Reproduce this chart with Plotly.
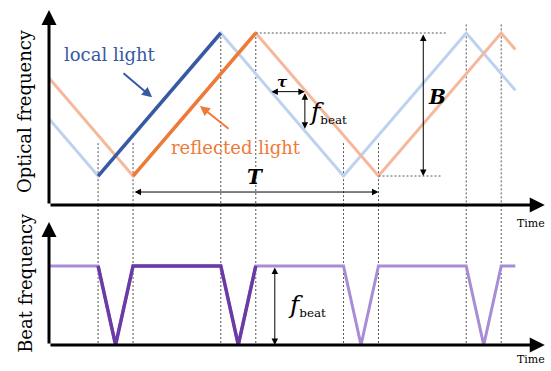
import plotly.graph_objects as go

# ---- data (normalized: half chirp period = 1, bandwidth B = 1) ----
local_t = [0, 0.4, 1.4, 2.4, 3.4, 3.8]
local_f = [0.4, 0, 1, 0, 1, 0.6]
reflected_t = [0, 0.685, 1.685, 2.685, 3.685, 3.8]
reflected_f = [0.685, 0, 1, 0, 1, 0.885]
beat_t = [0, 0.4, 0.5425, 0.685, 1.4, 1.5425, 1.685, 2.4, 2.5425, 2.685, 3.4, 3.5425, 3.685, 3.8]
beat_f = [1, 1, 0, 1, 1, 0, 1, 1, 0, 1, 1, 0, 1, 1]
turn_t = [0.4, 0.685, 1.4, 1.685, 2.4, 2.685, 3.4, 3.685]
turn_top = [0.23, 0.23, 1.0, 1.0, 0.23, 0.23, 1.06, 1.06]

DARK_BLUE = "#365aa3"
LIGHT_BLUE = "#bcd2ef"
DARK_OR = "#ee7a38"
LIGHT_OR = "#f5b89c"
DARK_PU = "#6b3aa6"
LIGHT_PU = "#a88dd6"
FONT = "DejaVu Serif"

fig = go.Figure()

def line(x, y, color, width, yaxis="y"):
    fig.add_trace(go.Scatter(x=x, y=y, mode="lines", yaxis=yaxis, xaxis="x",
                             line=dict(color=color, width=width),
                             hoverinfo="skip", showlegend=False, cliponaxis=False))

# light (full) traces
line(local_t, local_f, LIGHT_BLUE, 3)
line(reflected_t, reflected_f, LIGHT_OR, 3)
line(beat_t, beat_f, LIGHT_PU, 3, "y2")
# highlighted chirp
line(local_t[1:3], local_f[1:3], DARK_BLUE, 3.5)
line(reflected_t[1:3], reflected_f[1:3], DARK_OR, 3.5)
line(beat_t[1:7], beat_f[1:7], DARK_PU, 3.5, "y2")

Y1_BOT = -0.2028
Y2_TOP = 1.772
GUIDE = dict(color="#555", width=1, dash="2px,2px")
shapes = []
for t, top in zip(turn_t, turn_top):
    shapes.append(dict(type="line", xref="x", yref="y", x0=t, x1=t, y0=top, y1=Y1_BOT,
                       line=GUIDE, layer="below"))
    shapes.append(dict(type="line", xref="x", yref="y2", x0=t, x1=t, y0=Y2_TOP, y1=0,
                       line=GUIDE, layer="below"))
# horizontal guides for B
shapes.append(dict(type="line", xref="x", yref="y", x0=1.685, x1=3.24, y0=1, y1=1, line=GUIDE))
shapes.append(dict(type="line", xref="x", yref="y", x0=2.685, x1=3.2, y0=0, y1=0, line=GUIDE))

ann = []
def arrow(x0, y0, x1, y1, yref="y", width=1, both=False, size=1.3, color="black", head=2):
    d = dict(x=x1, y=y1, ax=x0, ay=y0, xref="x", yref=yref, axref="x", ayref=yref,
             text="", showarrow=True, arrowhead=head, arrowsize=size, arrowwidth=width,
             arrowcolor=color, standoff=0, startstandoff=0)
    if both:
        d.update(arrowside="end+start", startarrowhead=head, startarrowsize=size)
    ann.append(d)

def text(x, y, s, size, color="black", yref="y", xref="x", angle=0):
    ann.append(dict(x=x, y=y, xref=xref, yref=yref, text=s, showarrow=False, textangle=angle,
                    xanchor="center", yanchor="middle",
                    font=dict(family=FONT, size=size, color=color)))

# axes
arrow(0, Y1_BOT, 0, 1.161, width=3, size=1)
arrow(0, Y1_BOT, 4.04, Y1_BOT, width=3, size=1)
arrow(0, 0, 0, 1.557, yref="y2", width=3, size=1)
arrow(0, 0, 4.04, 0, yref="y2", width=3, size=1)

# dimension arrows
arrow(3.05, 1, 3.05, 0, both=True)              # B
arrow(0.685, -0.112, 2.685, -0.112, both=True)  # T
arrow(1.8, 0.59, 2.085, 0.59, both=True)        # tau
arrow(2.085, 0.59, 2.085, 0.33, both=True)      # f_beat top
arrow(1.84, 1, 1.84, 0, yref="y2", both=True)   # f_beat bottom

# label pointers
arrow(0.595, 0.727, 0.84, 0.55, width=2, color=DARK_BLUE, size=1)
arrow(1.475, 0.322, 1.23, 0.49, width=2, color=DARK_OR, size=1)

FB = "<span style='font-size:25px'><i>f</i></span><sub>beat</sub>"
text(0.5, 0.85, "local light", 18, DARK_BLUE)
text(1.52, 0.2, "reflected light", 18, DARK_OR)
text(3.16, 0.55, "<b><i>B</i></b>", 20)
text(1.68, -0.005, "<b><i>T</i></b>", 20)
text(1.9, 0.66, "<b><i>τ</i></b>", 15)
text(2.27, 0.45, FB, 17)
text(2.1, 0.5, FB, 17, yref="y2")
text(3.93, 0.398, "Time", 11, yref="paper")
text(3.93, 0.03, "Time", 11, yref="paper")
text(0.045, 0.70, "Optical frequency", 18, xref="paper", yref="paper", angle=-90)
text(0.045, 0.237, "Beat frequency", 18, xref="paper", yref="paper", angle=-90)

ax_common = dict(visible=False, showgrid=False, zeroline=False, fixedrange=True)
fig.update_layout(
    width=551, height=371, margin=dict(l=0, r=0, t=0, b=0),
    paper_bgcolor="white", plot_bgcolor="white", showlegend=False,
    xaxis=dict(domain=[49/551, 546/551], range=[0, 4.05], **ax_common),
    yaxis=dict(domain=[0.4474, 0.973], range=[Y1_BOT, 1.1608], anchor="x", **ax_common),
    yaxis2=dict(domain=[0.0701, 0.4474], range=[0, Y2_TOP], anchor="x", **ax_common),
    shapes=shapes, annotations=ann,
)
fig.write_html("out.html", config={"displayModeBar": False},
               post_script="document.body.style.margin='0px';")
